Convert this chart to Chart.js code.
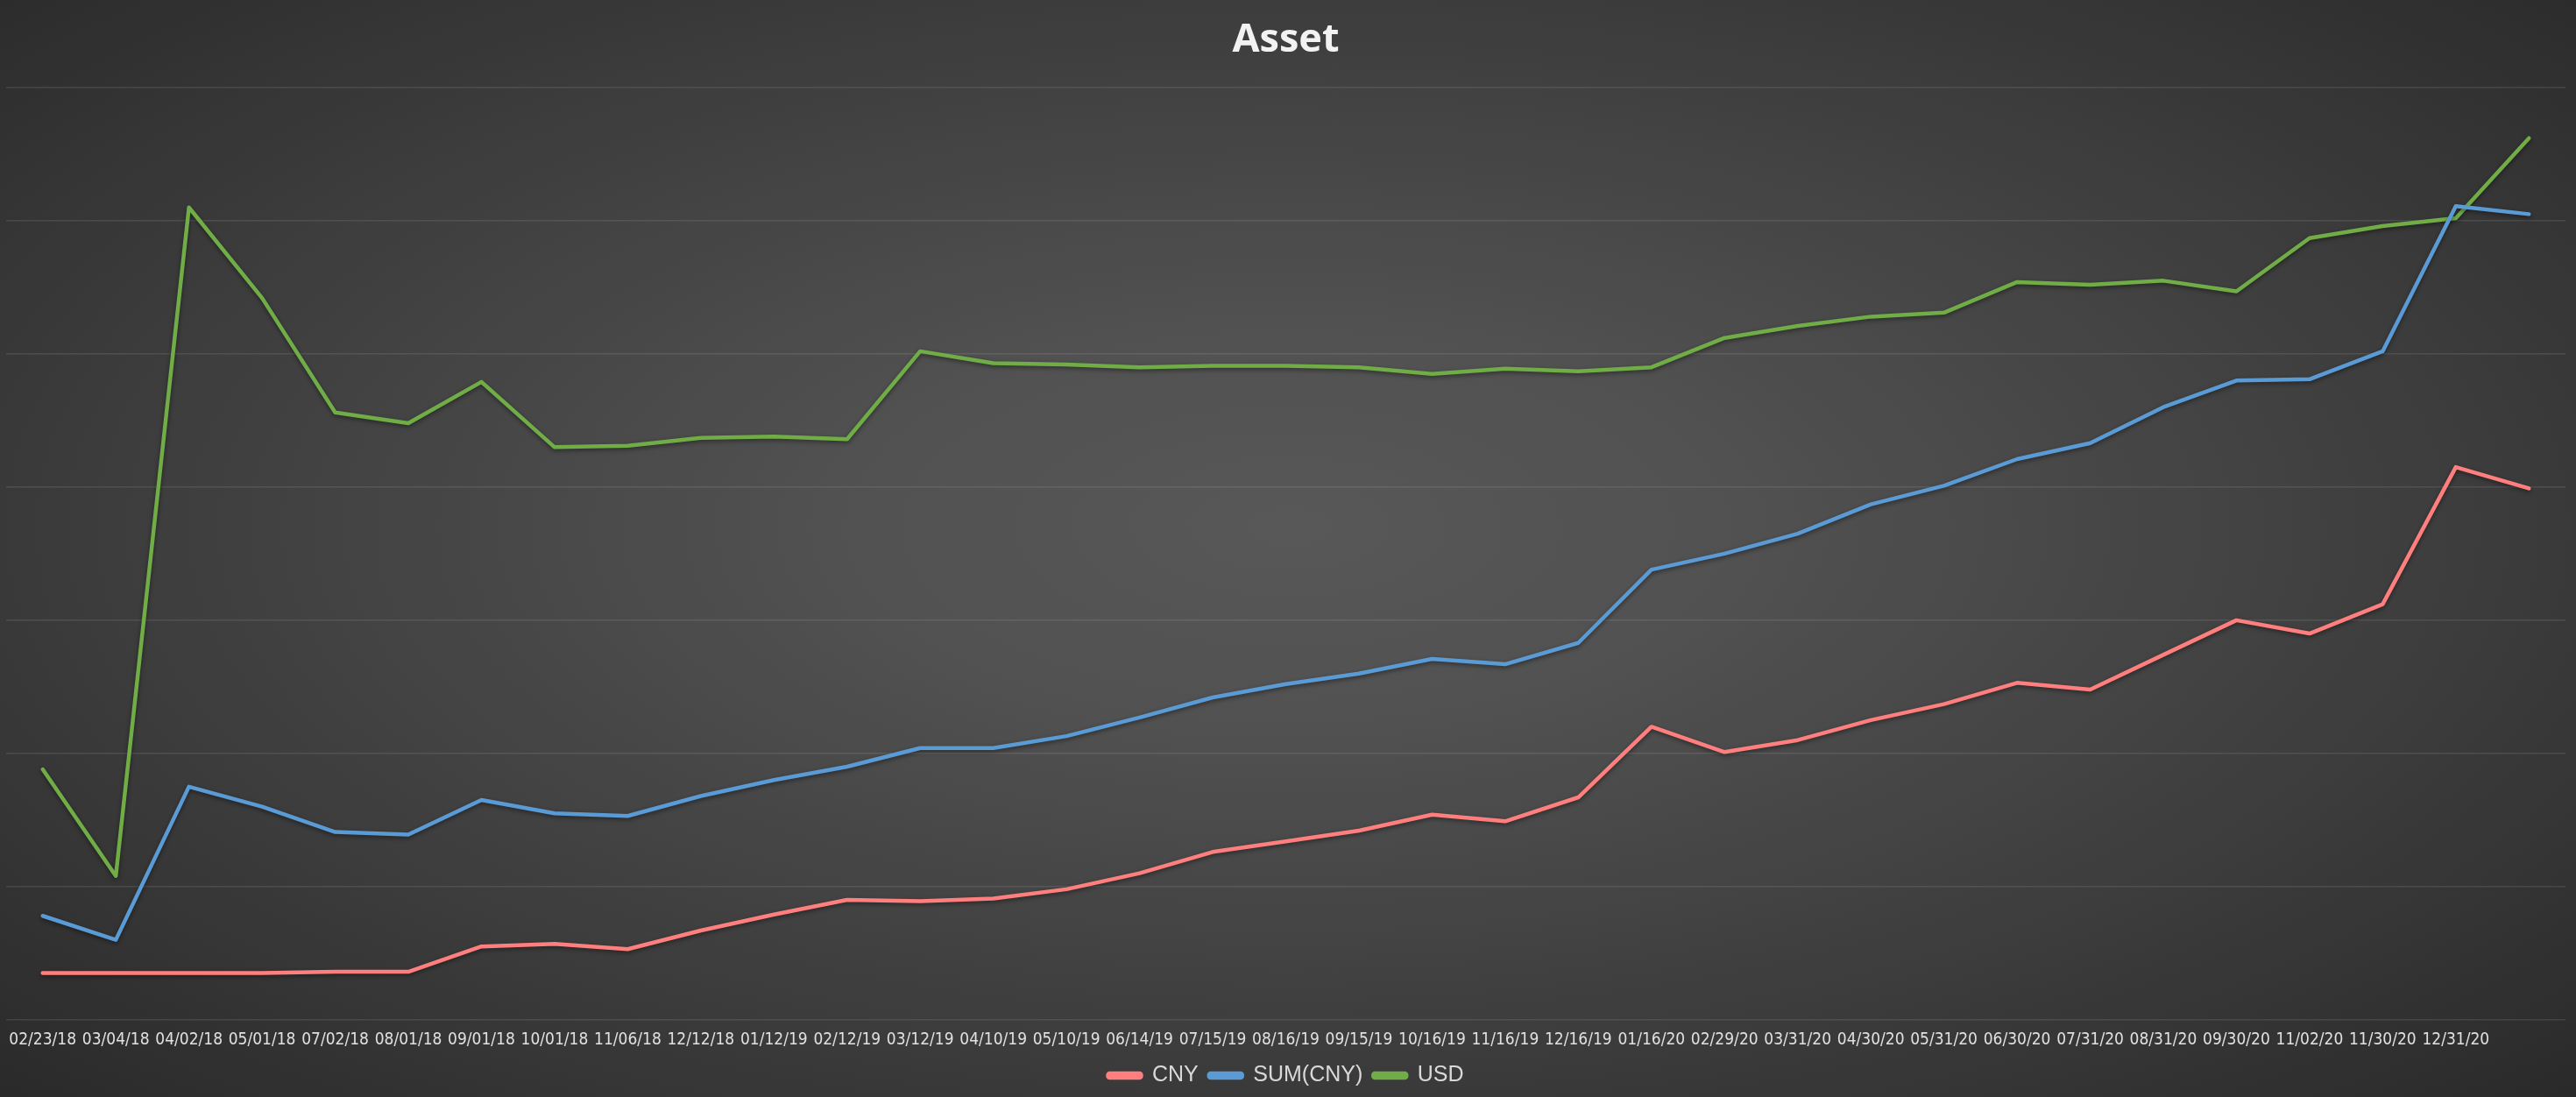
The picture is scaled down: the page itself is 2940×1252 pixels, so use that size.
<!DOCTYPE html>
<html lang="en">
<head>
    <meta charset="UTF-8">
    <title>Asset</title>
    <script src="https://cdn.jsdelivr.net/npm/chart.js@4.4.0/dist/chart.umd.min.js"></script>
    <style>
        html, body {
            margin: 0;
            padding: 0;
            background: #2b2b2b;
        }

        .wrap {
            width: 2940px;
            height: 1252px;
            background: radial-gradient(ellipse farthest-corner at 50% 48%, #585858 0%, #515151 25%, #3f3f3f 60%, #2a2a2a 100%);
        }
    </style>
</head>
<body>
    <div class="wrap">
        <canvas id="asset-chart" width="2940" height="1252"></canvas>
    </div>

    <script>
        // dates on the x axis (last point has no label in the original)
        const labels = ['02/23/18', '03/04/18', '04/02/18', '05/01/18', '07/02/18', '08/01/18', '09/01/18',
            '10/01/18', '11/06/18', '12/12/18', '01/12/19', '02/12/19', '03/12/19', '04/10/19', '05/10/19',
            '06/14/19', '07/15/19', '08/16/19', '09/15/19', '10/16/19', '11/16/19', '12/16/19', '01/16/20',
            '02/29/20', '03/31/20', '04/30/20', '05/31/20', '06/30/20', '07/31/20', '08/31/20', '09/30/20',
            '11/02/20', '11/30/20', '12/31/20', ''];

        const cny = [3500, 3500, 3500, 3500, 3600, 3600, 5500, 5700, 5300, 6700, 7900, 9000, 8900, 9100, 9800,
            11000, 12600, 13400, 14200, 15400, 14900, 16700, 22000, 20100, 21000, 22500, 23700, 25300, 24800,
            27400, 30000, 29000, 31200, 41500, 39900];

        const sumCny = [7800, 6000, 17500, 16000, 14100, 13900, 16500, 15500, 15300, 16800, 18000, 19000, 20400,
            20400, 21300, 22700, 24200, 25200, 26000, 27100, 26700, 28300, 33800, 35000, 36500, 38700, 40100,
            42100, 43300, 46000, 48000, 48100, 50200, 61100, 60500];

        const usd = [18800, 10800, 61000, 54200, 45600, 44800, 47900, 43000, 43100, 43700, 43800, 43600, 50200,
            49300, 49200, 49000, 49100, 49100, 49000, 48500, 48900, 48700, 49000, 51200, 52100, 52800, 53100,
            55400, 55200, 55500, 54700, 58700, 59600, 60200, 66200];

        const yMax = 70000;
        const yStep = 10000;

        // soft shadow under the lines, like the spreadsheet original
        const lineShadow = {
            id: 'lineShadow',
            beforeDatasetsDraw(chart) {
                const ctx = chart.ctx;
                ctx.save();
                ctx.shadowColor = 'rgba(0, 0, 0, 0.45)';
                ctx.shadowBlur = 5;
                ctx.shadowOffsetY = 2;
            },
            afterDatasetsDraw(chart) {
                chart.ctx.restore();
            }
        };

        function series(label, data, color) {
            return {
                label: label,
                data: data,
                borderColor: color,
                backgroundColor: color,
                borderWidth: 4.5,
                borderCapStyle: 'round',
                borderJoinStyle: 'round',
                pointRadius: 0,
                tension: 0,
                fill: false
            };
        }

        new Chart(document.getElementById('asset-chart'), {
            type: 'line',
            data: {
                labels: labels,
                datasets: [
                    series('CNY', cny, '#ff7f7f'),
                    series('SUM(CNY)', sumCny, '#5b9bd5'),
                    series('USD', usd, '#70ad47')
                ]
            },
            plugins: [lineShadow],
            options: {
                responsive: false,
                devicePixelRatio: 1,
                animation: false,
                layout: {
                    padding: { left: 7, right: 12, top: 0, bottom: 2 }
                },
                plugins: {
                    title: {
                        display: true,
                        text: 'Asset',
                        color: '#f2f2f2',
                        font: { family: "'Open Sans', sans-serif", size: 45, weight: 'bold' },
                        padding: { top: 19, bottom: 27 }
                    },
                    legend: {
                        position: 'bottom',
                        labels: {
                            color: '#d9d9d9',
                            font: { family: "'Liberation Sans', sans-serif", size: 25 },
                            boxWidth: 38,
                            boxHeight: 5,
                            useBorderRadius: true,
                            borderRadius: 2,
                            padding: 12
                        }
                    },
                    tooltip: { enabled: false }
                },
                scales: {
                    x: {
                        offset: true,
                        grid: { display: false },
                        border: { display: false },
                        ticks: {
                            color: '#e0e0e0',
                            font: { family: "'DejaVu Sans Condensed', 'DejaVu Sans', sans-serif", size: 19, lineHeight: 0.8 },
                            autoSkip: false,
                            maxRotation: 0,
                            minRotation: 0,
                            padding: 8
                        }
                    },
                    y: {
                        min: 0,
                        max: yMax,
                        ticks: { display: false, stepSize: yStep },
                        grid: {
                            color: 'rgba(255, 255, 255, 0.1)',
                            lineWidth: 1.5,
                            drawTicks: false
                        },
                        border: { display: false }
                    }
                }
            }
        });
    </script>
</body>
</html>
